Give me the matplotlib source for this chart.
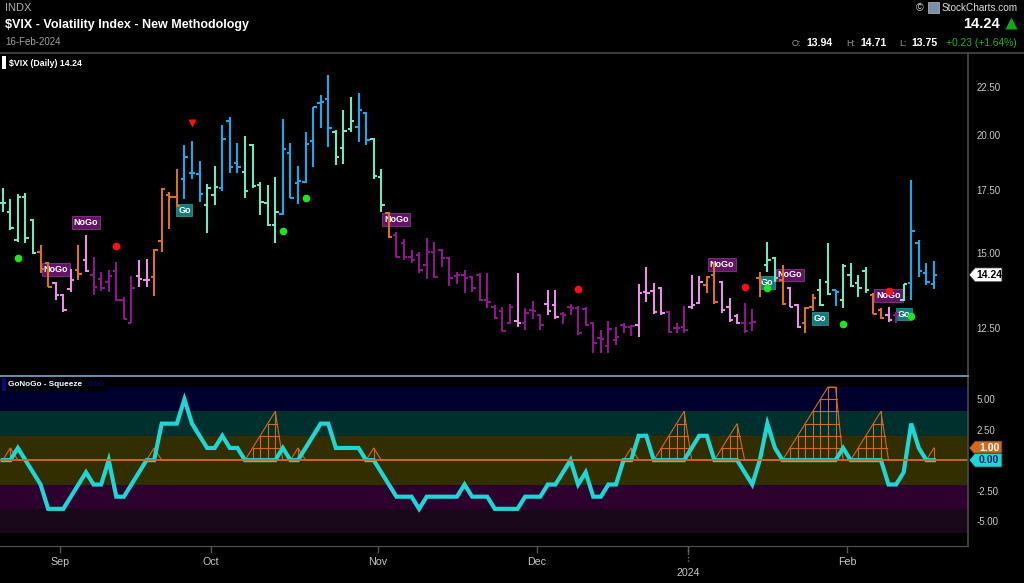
import numpy as np
import pandas as pd
import matplotlib
matplotlib.use("Agg")
import matplotlib.pyplot as plt
from matplotlib.collections import LineCollection
from matplotlib.patches import Polygon, Rectangle
from matplotlib.lines import Line2D
from matplotlib.transforms import blended_transform_factory
from matplotlib.ticker import NullLocator, NullFormatter

plt.rcParams['font.family'] = ['Liberation Sans', 'DejaVu Sans']

# ---------------- data ----------------
holidays = pd.to_datetime(['2023-09-04', '2023-11-23', '2023-12-25', '2024-01-01', '2024-01-15'])
dates = pd.bdate_range('2023-08-22', '2024-02-16')
dates = dates[~dates.isin(holidays)]

opens = [16.97, 16.60, 15.50, 17.22, 16.27, 15.06, 14.64, 13.97, 13.55, 13.75,
         14.41, 14.78, 14.23, 14.09, 13.98, 14.39, 13.39, 12.67, 14.20, 14.06,
         14.17, 15.47, 17.29, 17.22, 18.00, 18.26, 18.20, 16.88, 17.29, 17.61,
         20.72, 18.70, 18.30, 19.53, 17.71, 16.94, 16.07, 16.51, 19.14, 17.82,
         17.86, 19.74, 21.64, 21.82, 20.17, 19.37, 20.30, 20.39, 21.09, 19.80,
         18.05, 16.54, 15.69, 15.40, 14.88, 14.94, 14.58, 15.06, 15.12, 14.82,
         14.19, 14.23, 14.17, 14.23, 13.39, 13.18, 13.05, 12.65, 12.74, 12.65,
         13.07, 12.91, 13.28, 13.23, 12.96, 13.18, 13.12, 13.10, 12.65, 12.20,
         11.97, 12.15, 12.60, 12.55, 12.60, 13.66, 13.69, 13.78, 13.02, 12.50,
         12.55, 13.18, 13.30, 13.89, 14.23, 14.00, 13.18, 12.88, 12.65, 12.67,
         14.12, 14.58, 14.82, 14.06, 13.78, 13.23, 12.65, 13.18, 13.72, 14.00,
         13.72, 13.41, 14.23, 13.97, 14.39, 13.55, 13.07, 12.91, 12.91, 13.39,
         13.97, 15.40, 14.31, 13.94]
highs = [17.60, 17.11, 17.32, 17.36, 16.30, 15.31, 14.70, 14.00, 13.58, 14.46,
         15.31, 15.69, 14.86, 14.35, 14.41, 14.68, 13.48, 14.19, 14.76, 14.80,
         15.15, 17.57, 17.43, 18.44, 19.53, 19.74, 18.78, 17.76, 18.55, 20.50,
         20.92, 19.61, 19.96, 19.58, 17.86, 17.71, 18.08, 20.83, 19.61, 18.55,
         20.17, 21.43, 22.05, 23.15, 20.25, 21.26, 21.96, 22.14, 21.17, 19.85,
         18.44, 16.60, 15.82, 15.53, 15.12, 15.06, 15.56, 15.43, 15.18, 14.86,
         14.35, 14.41, 14.19, 14.29, 14.29, 13.23, 13.16, 13.28, 14.31, 13.12,
         13.37, 12.96, 13.72, 13.74, 13.02, 13.28, 13.20, 13.16, 12.70, 12.45,
         12.74, 12.55, 12.65, 12.60, 13.93, 14.52, 13.97, 13.81, 13.05, 12.65,
         13.20, 14.23, 14.19, 14.19, 14.70, 14.02, 13.45, 12.94, 13.30, 13.09,
         14.35, 15.43, 14.88, 14.58, 13.83, 13.28, 13.18, 13.59, 14.08, 15.37,
         13.74, 14.62, 14.64, 14.23, 14.52, 13.61, 13.12, 13.18, 13.02, 13.93,
         17.94, 15.50, 14.64, 14.71]
lows = [16.58, 15.88, 15.43, 15.40, 14.98, 14.31, 13.81, 13.41, 13.00, 13.67,
        14.06, 14.35, 13.55, 13.70, 13.67, 13.37, 12.78, 12.65, 13.83, 13.83,
        13.52, 15.06, 15.91, 16.81, 17.11, 18.00, 17.01, 15.77, 16.88, 17.47,
        18.26, 18.23, 17.15, 17.57, 16.47, 16.04, 15.40, 16.47, 17.15, 16.91,
        17.82, 18.52, 20.33, 19.45, 18.60, 18.67, 20.17, 19.69, 19.53, 17.96,
        16.60, 15.56, 14.86, 14.76, 14.67, 14.29, 14.08, 14.12, 14.52, 13.86,
        13.93, 13.63, 13.67, 13.37, 13.12, 12.78, 12.42, 12.62, 12.53, 12.45,
        12.78, 12.45, 12.91, 12.78, 12.63, 12.91, 12.30, 12.58, 11.76, 11.78,
        11.78, 12.00, 12.37, 12.27, 12.25, 13.33, 12.96, 12.91, 12.35, 12.35,
        12.35, 13.09, 13.28, 13.61, 13.26, 12.99, 12.70, 12.63, 12.35, 12.43,
        13.48, 14.35, 14.00, 13.24, 13.16, 12.50, 12.37, 13.05, 13.20, 13.55,
        13.20, 13.12, 13.83, 13.50, 13.61, 12.93, 12.78, 12.70, 12.65, 13.37,
        13.41, 14.17, 13.89, 13.75]
closes = [16.97, 15.94, 17.22, 15.56, 15.03, 14.43, 13.83, 13.55, 13.07, 14.05,
          14.26, 14.37, 13.83, 13.78, 14.20, 13.41, 12.80, 13.78, 14.10, 14.06,
          15.12, 17.54, 17.22, 16.85, 18.95, 18.24, 17.34, 17.58, 17.64, 19.80,
          18.49, 18.49, 17.45, 17.67, 17.01, 16.07, 16.60, 19.32, 17.18, 17.88,
          19.60, 21.40, 21.69, 20.33, 18.98, 20.22, 20.68, 21.26, 19.77, 18.10,
          16.88, 15.62, 14.88, 14.88, 14.76, 14.41, 15.06, 14.17, 14.82, 14.12,
          14.23, 14.12, 13.78, 13.41, 13.33, 12.81, 12.43, 13.18, 12.65, 12.98,
          13.05, 12.60, 13.05, 12.84, 12.91, 13.12, 12.37, 12.60, 12.05, 12.17,
          12.47, 12.25, 12.55, 12.57, 13.61, 13.63, 13.02, 12.99, 12.40, 12.50,
          12.45, 13.23, 14.00, 14.15, 13.33, 13.07, 12.76, 12.65, 12.43, 12.70,
          14.06, 14.78, 14.12, 13.26, 13.18, 12.55, 13.12, 13.45, 13.23, 13.59,
          13.66, 14.55, 13.85, 13.78, 13.72, 12.94, 12.81, 12.76, 12.94, 13.93,
          15.85, 14.38, 14.01, 14.24]
# GoNoGo trend per bar: B strong Go, A Go, O neutral, P NoGo, U strong NoGo
trend = ("AAAAA" "OO" "PPP" "O" "P" "UUUUUU" "PP" "OOOO" "BBB" "AA" "BBB" "AAAAA"
         "BBBBBBB" "AAA" "BB" "AA" "O" "UUUUUUUUUUUUUUUU" "P" "UUU" "PP" "UUUUUUUUUU"
         "PPPP" "UUU" "PP" "OO" "PPP" "UU" "O" "AA" "O" "PP" "OO" "AA" "B" "AAAA"
         "OO" "P" "U" "A" "BBBB")

oscillator = [0, 0, 1, 0, -1, -2, -4, -4, -4, -3,
              -2, -1, -2, -2, 0, -3, -3, -2, -1, 0,
              0, 3, 3, 3, 5, 3, 2, 1, 1, 2,
              1, 1, 0, 0, 0, 0, 0, 1, 0, 0,
              1, 2, 3, 3, 1, 1, 1, 1, 0, 0,
              -1, -2, -3, -3, -3, -4, -3, -3, -3, -3,
              -3, -2, -3, -3, -3, -4, -4, -4, -4, -3,
              -3, -3, -2, -2, -1, 0, -2, -1, -3, -3,
              -2, -2, 0, 0, 2, 2, 0, 0, 0, 0,
              0, 1, 2, 2, 0, 0, 0, 0, -1, -2,
              0, 3, 1, 0, 0, 0, 0, 0, 0, 0,
              0, 1, 0, 0, 0, 0, 0, -2, -2, -1,
              3, 1, 0, 0]
squeeze = [0, 1, 0, 0, 0, 0, 0, 0, 0, 0,
           0, 0, 0, 0, 0, 0, 0, 0, 0, 0,
           1, 0, 0, 0, 0, 0, 0, 0, 0, 0,
           0, 0, 0, 1, 2, 3, 4, 0, 0, 1,
           0, 0, 0, 0, 0, 0, 0, 0, 0, 1,
           0, 0, 0, 0, 0, 0, 0, 0, 0, 0,
           0, 0, 0, 0, 0, 0, 0, 0, 0, 0,
           0, 0, 0, 0, 0, 0, 0, 0, 0, 0,
           0, 0, 0, 1, 0, 0, 0, 1, 2, 3,
           4, 0, 0, 0, 0, 1, 2, 3, 0, 0,
           0, 0, 0, 0, 1, 2, 3, 4, 5, 6,
           6, 0, 0, 1, 2, 3, 4, 0, 0, 0,
           0, 0, 0, 1]

green_dot_bar = [2, 37, 40, 101, 111, 120]
green_dot_val = [14.84, 15.83, 17.17, 13.79, 12.63, 12.88]
red_dot_bar = [15, 76, 98, 117]
red_dot_val = [15.27, 13.75, 13.83, 13.70]
red_tri_bar = [25]
red_tri_val = [20.58]
go_bar = [24, 101, 108, 119]
go_val = [16.67, 13.97, 12.81, 12.94]
nogo_bar = [7, 11, 52, 95, 104, 117]
nogo_val = [14.43, 16.17, 16.30, 14.60, 14.24, 13.55]

price_ticks = [12.5, 15.0, 17.5, 20.0, 22.5]
osc_ticks = [-5.0, -2.5, 2.5, 5.0]
bands = [(4, 6, '#00002e'), (2, 4, '#00302e'), (-2, 2, '#322e00'),
         (-4, -2, '#2e002e'), (-6, -4, '#190819')]

# ---------------- style ----------------
colors = {'B': '#1ca8e8', 'A': '#72e6be', 'O': '#d8721e', 'P': '#e690e6', 'U': '#8c168c'}
ORANGE = '#d2691e'
CYAN = '#1ed6d6'
GRID = '#555555'
LBL = '#c8c8c8'

W, H = 1024, 583
fig = plt.figure(figsize=(W / 100, H / 100), dpi=100, facecolor='black')


def fx(px):
    return px / W


def fy(py):
    return 1 - py / H


AX_R = 968
ax1 = fig.add_axes([0, fy(375), fx(AX_R), (375 - 54) / H])
ax2 = fig.add_axes([0, fy(546), fx(AX_R), (546 - 376) / H])
for ax in (ax1, ax2):
    ax.set_facecolor('black')
    for s in ax.spines.values():
        s.set_visible(False)

n = len(closes)
xs = np.arange(n)
XL = (-0.36, 127.5)

# ---------- price panel ----------
ax1.set_xlim(*XL)
ax1.set_yscale('log')
ax1.set_ylim(11.16, 24.37)
segs, cols = [], []
for i in range(n):
    c = colors[trend[i]]
    segs.append([(i, lows[i]), (i, highs[i])])
    segs.append([(i - 0.45, opens[i]), (i, opens[i])])
    segs.append([(i, closes[i]), (i + 0.45, closes[i])])
    cols += [c, c, c]
ax1.add_collection(LineCollection(segs, colors=cols, linewidths=1.5,
                                  capstyle='butt', zorder=3))
ax1.plot(green_dot_bar, green_dot_val, 'o', color='#1ee61e', ms=5.5, mec='none', zorder=5)
ax1.plot(red_dot_bar, red_dot_val, 'o', color='#ff1010', ms=5.5, mec='none', zorder=5)
ax1.plot(red_tri_bar, red_tri_val, 'v', color='#ff1010', ms=6, mec='none', zorder=5)
for b, v in zip(go_bar, go_val):
    ax1.text(b, v, 'Go', ha='center', va='center', fontsize=6.5, fontweight='bold',
             color='white', zorder=2,
             bbox=dict(boxstyle='square,pad=0.2', fc='#167a7a', ec='#2a9090', lw=0.6))
for b, v in zip(nogo_bar, nogo_val):
    ax1.text(b, v, 'NoGo', ha='center', va='center', fontsize=6.5, fontweight='bold',
             color='white', zorder=2,
             bbox=dict(boxstyle='square,pad=0.2', fc='#641464', ec='#823882', lw=0.6))

ax1.set_xticks([])
ax1.yaxis.tick_right()
ax1.set_yticks(price_ticks, labels=[f'{t:.2f}' for t in price_ticks])
ax1.yaxis.set_minor_locator(NullLocator())
ax1.yaxis.set_minor_formatter(NullFormatter())
ax1.tick_params(axis='y', length=0, pad=6, labelsize=7, labelcolor=LBL)

# ---------- GoNoGo squeeze panel ----------
ax2.set_xlim(*XL)
ax2.set_ylim(-7.05, 6.91)
for lo, hi, c in bands:
    ax2.axhspan(lo, hi, color=c, lw=0, zorder=0)

sq = np.array(squeeze, dtype=float)
mesh_kw = dict(color=ORANGE, lw=0.8, zorder=2, solid_joinstyle='miter')
ax2.plot(xs, sq, **mesh_kw)
for i in range(n):
    if sq[i] > 0:
        ax2.plot([i, i], [0, sq[i]], **mesh_kw)
for k in range(1, int(sq.max()) + 1):
    above = sq >= k
    i = 0
    while i < n:
        if above[i]:
            j = i
            while j + 1 < n and above[j + 1]:
                j += 1
            left = i - 1 + (k - sq[i - 1]) / (sq[i] - sq[i - 1]) if i > 0 else i
            right = j + (sq[j] - k) / (sq[j] - sq[j + 1]) if j < n - 1 else j
            if right > left:
                ax2.plot([left, right], [k, k], **mesh_kw)
            i = j + 1
        else:
            i += 1

ax2.plot(xs, oscillator, color=CYAN, lw=3.0, zorder=3, solid_joinstyle='miter')
ax2.axhline(0, color=ORANGE, lw=1.3, zorder=4)

ax2.yaxis.tick_right()
ax2.set_yticks(osc_ticks, labels=[f'{t:.2f}' for t in osc_ticks])
ax2.tick_params(axis='y', length=0, pad=6, labelsize=7, labelcolor=LBL)

month_idx = [i for i in range(1, n) if dates[i].month != dates[i - 1].month]
month_pos = [i - 0.45 for i in month_idx]
month_lbl = ['' if dates[i].month == 1 else dates[i].strftime('%b') for i in month_idx]
ax2.set_xticks(month_pos, labels=month_lbl)
ax2.tick_params(axis='x', length=5, width=1, color=GRID, pad=3, labelsize=7.7, labelcolor=LBL)
ax2.spines['bottom'].set_visible(True)
ax2.spines['bottom'].set_color(GRID)
trans = blended_transform_factory(ax2.transData, ax2.transAxes)
for i, p in zip(month_idx, month_pos):
    if dates[i].month == 1:
        ax2.plot([p, p], [0, -0.1], transform=trans, color='#777777', lw=1,
                 ls=(0, (1, 1.5)), clip_on=False)
        ax2.text(p, -0.159, str(dates[i].year), transform=trans, ha='center',
                 va='center', fontsize=7.7, color=LBL)

# ---------- frame lines ----------
fig.add_artist(Line2D([0, 1], [fy(53), fy(53)], transform=fig.transFigure, color='#3c3c3c', lw=1.5))
fig.add_artist(Line2D([fx(AX_R), fx(AX_R)], [fy(53), fy(546)], transform=fig.transFigure,
                      color='#4a4a4a', lw=1.2))
fig.add_artist(Line2D([0, fx(AX_R)], [fy(375.7), fy(375.7)], transform=fig.transFigure,
                      color='#6a88a8', lw=1.5))


# ---------- value tags on the right ----------
def tag(ax, value, text, fc, tc, h=13, x0=969, x1=1002, tip=6, z=10):
    yd = ax.transData.transform((0, value))[1]
    yc = 1 - (H - yd) / H  # figure fraction
    hh = h / 2 / H
    pts = [(fx(x0), yc), (fx(x0 + tip), yc + hh), (fx(x1), yc + hh),
           (fx(x1), yc - hh), (fx(x0 + tip), yc - hh)]
    fig.add_artist(Polygon(pts, closed=True, transform=fig.transFigure, fc=fc,
                           ec='#222222', lw=0.6, zorder=z))
    fig.text(fx((x0 + tip + x1) / 2 + 0.5), yc, text, ha='center', va='center',
             color=tc, fontsize=7.5, fontweight='bold', zorder=z + 1)


tag(ax1, closes[-1], f'{closes[-1]:.2f}', 'white', 'black', h=14)
tag(ax2, squeeze[-1], f'{squeeze[-1]:.2f}', ORANGE, 'white', h=14, z=10)
tag(ax2, oscillator[-1], f'{oscillator[-1]:.2f}', CYAN, '#0a1a60', h=14, z=12)

# ---------- legends ----------
fig.add_artist(Rectangle((fx(2), fy(69)), fx(4), 13 / H, transform=fig.transFigure,
                         fc='white', ec='none'))
fig.text(fx(9), fy(63), f'$VIX (Daily) {closes[-1]:.2f}', ha='left', va='center',
         fontsize=6.3, fontweight='bold', color='white')
fig.add_artist(Rectangle((0, fy(392)), fx(107), 15 / H, transform=fig.transFigure,
                         fc='#00000a', ec='none', zorder=5))
fig.add_artist(Rectangle((fx(2), fy(391)), fx(4), 13 / H, transform=fig.transFigure,
                         fc='#0a0a80', ec='none', zorder=6))
fig.text(fx(8.5), fy(384.5), 'GoNoGo - Squeeze', ha='left', va='center', fontsize=5.9,
         fontweight='bold', color='white', zorder=7)
fig.text(fx(87.5), fy(384.5), f'{oscillator[-1]:.2f}', ha='left', va='center', fontsize=6.0,
         color='#0c0c70', zorder=7)

# ---------- header ----------
fig.text(fx(5), fy(8), 'INDX', ha='left', va='center', fontsize=8, color='#b0b0b0')
fig.text(fx(5), fy(25), '$VIX - Volatility Index - New Methodology', ha='left', va='center',
         fontsize=9, fontweight='bold', color='white')
fig.text(fx(5), fy(42), dates[-1].strftime('%d-%b-%Y'), ha='left', va='center',
         fontsize=7, color='#a0a0a0')
fig.text(fx(916), fy(8), '©', ha='left', va='center', fontsize=7.5, color='#dddddd')
fig.add_artist(Rectangle((fx(928), fy(13)), fx(11), 11 / H, transform=fig.transFigure,
                         fc='#7d8ea8', ec='#c0c0c0', lw=0.5))
fig.text(fx(1018), fy(8), 'StockCharts.com', ha='right', va='center', fontsize=7.2,
         color='#dddddd')
fig.text(fx(1000), fy(24), f'{closes[-1]:.2f}', ha='right', va='center', fontsize=10.5,
         fontweight='bold', color='white')
fig.add_artist(Line2D([fx(1011)], [fy(23)], marker='^', ms=9, color='#10a810', mec='none',
                      transform=fig.transFigure))
chg = closes[-1] - closes[-2]
pct = chg / closes[-2] * 100
fig.text(fx(792), fy(43.5), 'O:', ha='left', va='center', fontsize=6.5, color='#9a9a9a')
fig.text(fx(806), fy(43.5), f'{opens[-1]:.2f}', ha='left', va='center', fontsize=7.6,
         fontweight='bold', color='white')
fig.text(fx(846), fy(43.5), 'H:', ha='left', va='center', fontsize=6.5, color='#9a9a9a')
fig.text(fx(860), fy(43.5), f'{highs[-1]:.2f}', ha='left', va='center', fontsize=7.6,
         fontweight='bold', color='white')
fig.text(fx(899), fy(43.5), 'L:', ha='left', va='center', fontsize=6.5, color='#9a9a9a')
fig.text(fx(911), fy(43.5), f'{lows[-1]:.2f}', ha='left', va='center', fontsize=7.6,
         fontweight='bold', color='white')
fig.text(fx(1017), fy(43.5), f'{chg:+.2f} ({pct:+.2f}%)', ha='right', va='center',
         fontsize=7.4, color='#1db51d')

fig.savefig('out.png', dpi=100, facecolor='black')
